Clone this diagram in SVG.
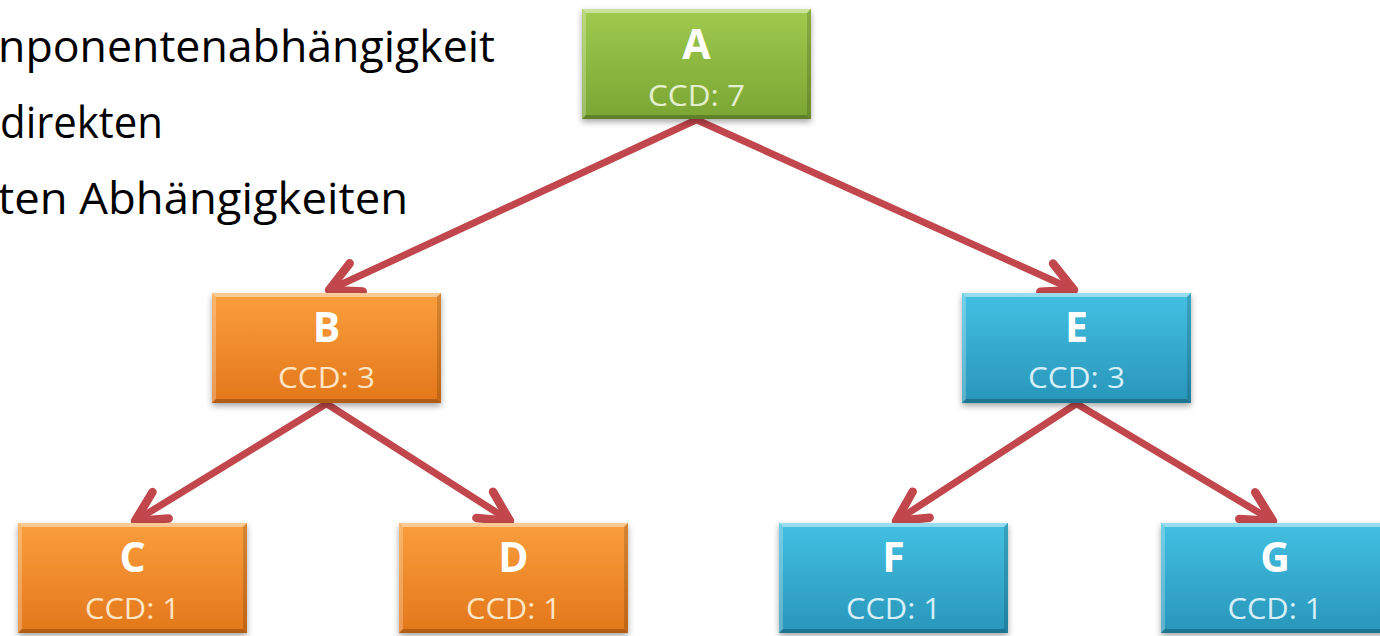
<svg xmlns="http://www.w3.org/2000/svg" xmlns:xlink="http://www.w3.org/1999/xlink" width="1380" height="636" viewBox="0 0 1380 636">
<style>
.title{font-family:"Open Sans","Liberation Sans",sans-serif;font-size:43px;fill:#000}
.lbl{font-family:"Open Sans","Liberation Sans",sans-serif;font-weight:bold;font-size:41px;fill:#ffffff;text-anchor:middle}
.ccd{font-family:"Open Sans","Liberation Sans",sans-serif;font-size:30px;text-anchor:middle}
.g .ccd{fill:#e4efcf}
.o .ccd{fill:#fde6c6}
.b .ccd{fill:#d6eff8}
.edge{fill:none;stroke:#c1474c;stroke-width:7;stroke-linecap:round;marker-end:url(#arr)}
</style>
<defs>
<linearGradient id="gG" x1="0" y1="0" x2="0" y2="1"><stop offset="0" stop-color="#a0cb4e"/><stop offset="1" stop-color="#7aa533"/></linearGradient>
<linearGradient id="gO" x1="0" y1="0" x2="0" y2="1"><stop offset="0" stop-color="#fa9e3c"/><stop offset="1" stop-color="#e3771b"/></linearGradient>
<linearGradient id="gB" x1="0" y1="0" x2="0" y2="1"><stop offset="0" stop-color="#42c0e2"/><stop offset="1" stop-color="#2896ba"/></linearGradient>
<filter id="sh" x="-10%" y="-10%" width="120%" height="130%"><feDropShadow dx="0" dy="3" stdDeviation="3" flood-color="#000" flood-opacity="0.35"/></filter>
<g id="bevel">
<polygon points="0,0 229,0 225,4 4,4" fill="#ffffff" opacity="0.45"/>
<polygon points="0,0 4,4 4,106 0,110" fill="#ffffff" opacity="0.25"/>
<polygon points="229,0 229,110 225,106 225,4" fill="#000000" opacity="0.15"/>
<polygon points="0,110 229,110 225,106 4,106" fill="#000000" opacity="0.22"/>
</g>
<marker id="arr" markerUnits="userSpaceOnUse" markerWidth="60" markerHeight="60" viewBox="-45 -30 60 60" refX="0" refY="0" orient="auto">
<path d="M -30 -15.5 L 0 0 L -30 15.5" fill="none" stroke="#c1474c" stroke-width="8.5" stroke-linecap="round" stroke-linejoin="round"/>
</marker>
</defs>
<rect width="1380" height="636" fill="#ffffff"/>
<g id="title">
<text class="title" x="-2" y="62" textLength="497" lengthAdjust="spacingAndGlyphs">nponentenabhängigkeit</text>
<text class="title" x="0" y="138" textLength="163" lengthAdjust="spacingAndGlyphs">direkten</text>
<text class="title" x="-2" y="214" textLength="410" lengthAdjust="spacingAndGlyphs">ten Abhängigkeiten</text>
</g>
<g id="connectors">
<line class="edge" x1="696" y1="120" x2="329" y2="290"/>
<line class="edge" x1="697" y1="120" x2="1074" y2="290"/>
<line class="edge" x1="326" y1="404" x2="135" y2="521"/>
<line class="edge" x1="327" y1="404" x2="510" y2="521"/>
<line class="edge" x1="1076" y1="404" x2="896" y2="521"/>
<line class="edge" x1="1077" y1="404" x2="1273" y2="521"/>
</g>
<g id="node-A" class="g">
<rect x="582" y="9" width="229" height="110" fill="url(#gG)" filter="url(#sh)"/>
<use xlink:href="#bevel" x="582" y="9"/>
<text class="lbl" x="696.5" y="59">A</text>
<text class="ccd" x="696.5" y="106" textLength="97" lengthAdjust="spacingAndGlyphs">CCD: 7</text>
</g>
<g id="node-B" class="o">
<rect x="212" y="293" width="229" height="110" fill="url(#gO)" filter="url(#sh)"/>
<use xlink:href="#bevel" x="212" y="293"/>
<text class="lbl" x="326.5" y="342">B</text>
<text class="ccd" x="326.5" y="388" textLength="97" lengthAdjust="spacingAndGlyphs">CCD: 3</text>
</g>
<g id="node-E" class="b">
<rect x="962" y="293" width="229" height="110" fill="url(#gB)" filter="url(#sh)"/>
<use xlink:href="#bevel" x="962" y="293"/>
<text class="lbl" x="1076.5" y="342">E</text>
<text class="ccd" x="1076.5" y="388" textLength="97" lengthAdjust="spacingAndGlyphs">CCD: 3</text>
</g>
<g id="node-C" class="o">
<rect x="18" y="523" width="229" height="110" fill="url(#gO)" filter="url(#sh)"/>
<use xlink:href="#bevel" x="18" y="523"/>
<text class="lbl" x="132.5" y="572">C</text>
<text class="ccd" x="132.5" y="619" textLength="95" lengthAdjust="spacingAndGlyphs">CCD: 1</text>
</g>
<g id="node-D" class="o">
<rect x="399" y="523" width="229" height="110" fill="url(#gO)" filter="url(#sh)"/>
<use xlink:href="#bevel" x="399" y="523"/>
<text class="lbl" x="513.5" y="572">D</text>
<text class="ccd" x="513.5" y="619" textLength="95" lengthAdjust="spacingAndGlyphs">CCD: 1</text>
</g>
<g id="node-F" class="b">
<rect x="779" y="523" width="229" height="110" fill="url(#gB)" filter="url(#sh)"/>
<use xlink:href="#bevel" x="779" y="523"/>
<text class="lbl" x="893.5" y="572">F</text>
<text class="ccd" x="893.5" y="619" textLength="95" lengthAdjust="spacingAndGlyphs">CCD: 1</text>
</g>
<g id="node-G" class="b">
<rect x="1161" y="523" width="229" height="110" fill="url(#gB)" filter="url(#sh)"/>
<use xlink:href="#bevel" x="1161" y="523"/>
<text class="lbl" x="1275" y="572">G</text>
<text class="ccd" x="1275" y="619" textLength="95" lengthAdjust="spacingAndGlyphs">CCD: 1</text>
</g>
</svg>
